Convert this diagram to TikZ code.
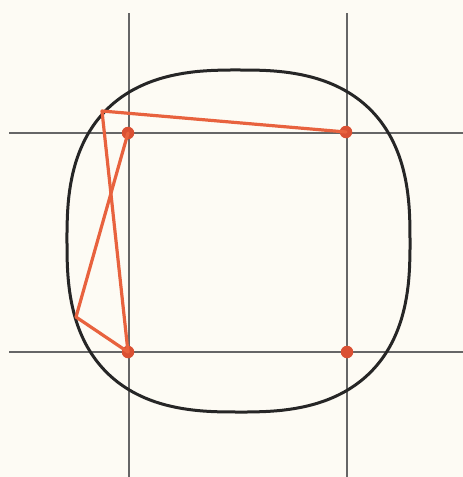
\documentclass[tikz,border=0pt]{standalone}
\begin{document}
\begin{tikzpicture}[x=1pt,y=-1pt,
  gridline/.style={draw=black!60,line width=1.1pt},
  outline/.style={draw=black!85,line width=3pt},
  redline/.style={draw=redorange,line width=3.2pt,line join=round,line cap=round},
  dotnode/.style={circle,fill=reddot,inner sep=0pt,minimum size=12.5pt}]
\definecolor{redorange}{HTML}{E8623E}
\definecolor{reddot}{HTML}{DA5033}
\fill[color={rgb,255:red,253;green,251;blue,244}] (0,0) rectangle (463,477);
\useasboundingbox (0,0) rectangle (463,477);
% grid
\coordinate (vlt) at (129,13); \coordinate (vlb) at (129,477);
\coordinate (vrt) at (347,13); \coordinate (vrb) at (347,477);
\coordinate (htl) at (9,133); \coordinate (htr) at (463,133);
\coordinate (hbl) at (9,352); \coordinate (hbr) at (463,352);
\draw[gridline] (vlt) -- (vlb);
\draw[gridline] (vrt) -- (vrb);
\draw[gridline] (htl) -- (htr);
\draw[gridline] (hbl) -- (hbr);
% superellipse outline
\draw[outline] plot[smooth cycle,domain=1:357,samples=90,variable=\t]
 ({238.5+171.5*sign(cos(\t))*abs(cos(\t))^(0.76)},{241+171*sign(sin(\t))*abs(sin(\t))^(0.76)});
% points
\node[dotnode] (d1) at (128,133) {};
\node[dotnode] (d2) at (346,132) {};
\node[dotnode] (d3) at (128,352) {};
\node[dotnode] (d4) at (347,352) {};
\coordinate (p1) at (102,111);
\coordinate (p2) at (76,317);
\draw[redline] (d2.center) -- (p1) -- (d3.center);
\draw[redline] (d1.center) -- (p2) -- (d3.center);
\end{tikzpicture}
\end{document}
